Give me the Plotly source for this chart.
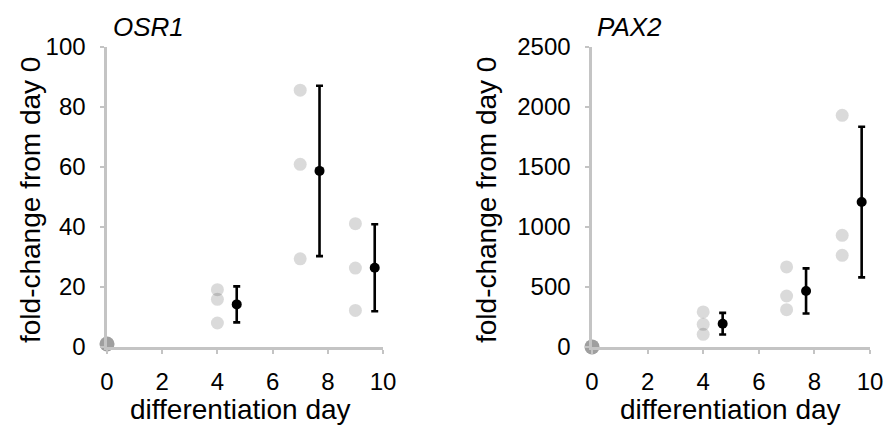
import plotly.graph_objects as go

# ---------------- data ----------------
rep_days = [0, 0, 0, 4, 4, 4, 7, 7, 7, 9, 9, 9]
mean_days = [4.7, 7.7, 9.7]

osr1_reps = [1, 1, 1, 19.1, 15.9, 8.0, 85.6, 60.9, 29.4, 41.1, 26.3, 12.2]
osr1_mean = [14.2, 58.7, 26.4]
osr1_err = [6.0, 28.4, 14.5]

pax2_reps = [1, 1, 1, 292, 189, 106, 667, 425, 311, 1931, 931, 764]
pax2_mean = [194, 467, 1208]
pax2_err = [90, 188, 628]

x_ticks = [0, 2, 4, 6, 8, 10]
osr1_yticks = [0, 20, 40, 60, 80, 100]
pax2_yticks = [0, 500, 1000, 1500, 2000, 2500]

W, H = 886, 425
FONT = "Liberation Sans, Arial, Helvetica, sans-serif"
AXC = "#c4c4c4"


def px(x):
    return x / W


def py(y):
    return 1 - y / H


fig = go.Figure()

panels = [
    ("x", "y", osr1_reps, osr1_mean, osr1_err),
    ("x2", "y2", pax2_reps, pax2_mean, pax2_err),
]
for xa, ya, reps, means, errs in panels:
    fig.add_trace(go.Scatter(
        x=rep_days, y=reps, xaxis=xa, yaxis=ya, mode="markers",
        marker=dict(size=[15, 15, 15] + [13] * 9, color="rgba(0,0,0,0.21)",
                    line=dict(width=0)),
        cliponaxis=False, showlegend=False, hoverinfo="skip"))
    fig.add_trace(go.Scatter(
        x=mean_days, y=means, xaxis=xa, yaxis=ya, mode="markers",
        marker=dict(size=10, color="black", line=dict(width=0)),
        error_y=dict(type="data", array=errs, visible=True, color="black",
                     thickness=2.6, width=3.5),
        cliponaxis=False, showlegend=False, hoverinfo="skip"))

axis_common = dict(
    showgrid=False, zeroline=False, showline=True, linecolor=AXC, linewidth=2.6,
    ticks="outside", tickcolor=AXC, ticklen=4, tickwidth=2, automargin=False,
    ticklabeloverflow="allow",
    tickfont=dict(family=FONT, size=24, color="black"), fixedrange=True,
)

fig.update_layout(
    width=W, height=H, margin=dict(l=0, r=0, t=0, b=0),
    paper_bgcolor="white", plot_bgcolor="white", showlegend=False,
    xaxis=dict(domain=[px(107), px(383)], range=[0, 10], tickvals=x_ticks,
               anchor="y", ticklabelstandoff=8, **axis_common),
    yaxis=dict(domain=[py(347), py(47)], range=[0, 100], tickvals=osr1_yticks,
               anchor="x", ticklabelstandoff=10, **axis_common),
    xaxis2=dict(domain=[px(592), px(870)], range=[0, 10], tickvals=x_ticks,
                anchor="y2", ticklabelstandoff=8, **axis_common),
    yaxis2=dict(domain=[py(347), py(47)], range=[0, 2500], tickvals=pax2_yticks,
                anchor="x2", ticklabelstandoff=10, **axis_common),
)

title_font = dict(family=FONT, size=28, color="black")
ann = []
for cx in (30, 486):
    ann.append(dict(text="fold-change from day 0", x=px(cx), y=py(200),
                    xref="paper", yref="paper", showarrow=False, textangle=-90,
                    xanchor="center", yanchor="middle", font=title_font))
for cx in (240, 730):
    ann.append(dict(text="differentiation day", x=px(cx), y=py(409),
                    xref="paper", yref="paper", showarrow=False,
                    xanchor="center", yanchor="middle", font=title_font))
for name, lx in (("OSR1", 111), ("PAX2", 595)):
    ann.append(dict(text="<i>%s</i>" % name, x=px(lx), y=py(27),
                    xref="paper", yref="paper", showarrow=False,
                    xanchor="left", yanchor="middle",
                    font=dict(family=FONT, size=26, color="black")))
fig.update_layout(annotations=ann)

# remove the default page margin so the figure fills the window exactly
fig.write_html(
    "out.html",
    config={"displayModeBar": False, "staticPlot": True},
    post_script="document.body.style.margin='0';document.body.style.overflow='hidden';",
)
